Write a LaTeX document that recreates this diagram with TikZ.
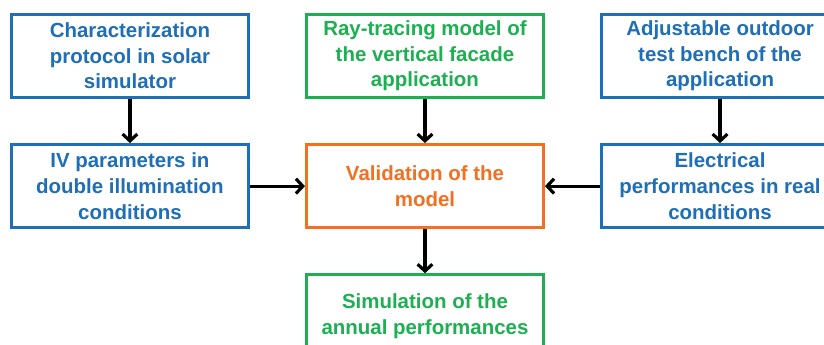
\documentclass[tikz,border=0pt]{standalone}
\usepackage{fontspec}
\setmainfont{Liberation Sans}
\usepackage{tikz}
\usetikzlibrary{positioning,arrows.meta}
\definecolor{boxblue}{HTML}{1E6EB8}
\definecolor{boxgreen}{HTML}{1DB052}
\definecolor{boxorange}{HTML}{F37021}
\tikzset{
    flow-box/.style = {rectangle, line width=2.9pt, fill=white, minimum width=7.9cm, minimum height=2.77cm, align=center, inner sep=2pt, font=\fontsize{19.4}{24.3}\selectfont\bfseries},
    blue-box/.style = {flow-box, draw=boxblue, text=boxblue},
    green-box/.style = {flow-box, draw=boxgreen, text=boxgreen},
    orange-box/.style = {flow-box, draw=boxorange, text=boxorange},
    flow-arrow/.style = {-{Straight Barb[length=6.5pt,width=14pt]}, line width=3pt, black},
}

\begin{document}
\begin{tikzpicture}[node distance=1.467cm and 1.833cm]
\useasboundingbox (0,0) rectangle (27.467,-11.5);
\clip (0,0) rectangle (27.467,-11.5);
\node[blue-box, anchor=north west] (protocol) at (0.33,-0.43) {Characterization\\protocol in solar\\simulator};
\node[green-box, right=of protocol] (raytracing) {Ray-tracing model of\\the vertical facade\\application};
\node[blue-box, right=of raytracing] (bench) {Adjustable outdoor\\test bench of the\\application};
\node[blue-box, below=of protocol] (ivparams) {IV parameters in\\double illumination\\conditions};
\node[orange-box, below=of raytracing] (validation) {Validation of the\\model};
\node[blue-box, below=of bench] (electrical) {Electrical\\performances in real\\conditions};
\node[green-box, below=of validation] (annual) {Simulation of the\\annual performances};
\draw[flow-arrow] (protocol) -- (ivparams);
\draw[flow-arrow] (raytracing) -- (validation);
\draw[flow-arrow] (bench) -- (electrical);
\draw[flow-arrow] (ivparams) -- (validation);
\draw[flow-arrow] (electrical) -- (validation);
\draw[flow-arrow] (validation) -- (annual);
\end{tikzpicture}
\end{document}
